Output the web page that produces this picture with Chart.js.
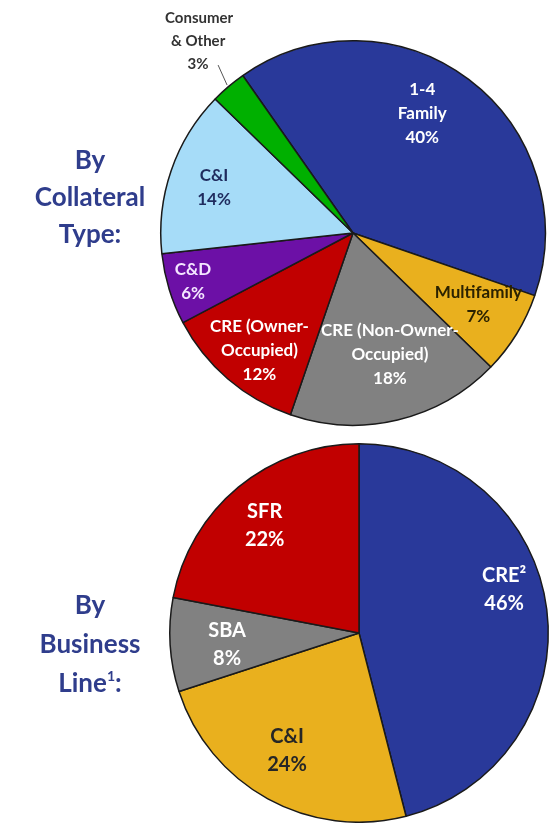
<!DOCTYPE html>
<html lang="en">
<head>
  <meta charset="UTF-8">
  <title>Loan Portfolio Composition</title>
  <script src="https://cdn.jsdelivr.net/npm/chart.js"></script>
  <style>
    body {
      margin: 0;
      padding: 0;
      background: #fff;
      font-family: Lato, sans-serif;
    }
    .page {
      position: relative;
      width: 552px;
      height: 823px;
      overflow: hidden;
    }
    .box {
      position: absolute;
      left: 0;
      width: 552px;
    }
    #topBox { top: 0; height: 430px; }
    #bottomBox { top: 430px; height: 393px; }
    .side-title {
      position: absolute;
      width: 180px;
      left: 0;
      text-align: center;
      color: #2f3d8c;
      font-weight: bold;
      font-size: 26px;
      line-height: 37px;
    }
    #title1 { top: 141px; }
    #title2 { top: 585px; line-height: 39px; }
    sup { font-size: 14px; vertical-align: 11px; line-height: 0; }
  </style>
</head>
<body>
  <div class="page">
    <div class="box" id="topBox"><canvas id="collateralChart"></canvas></div>
    <div class="box" id="bottomBox"><canvas id="businessChart"></canvas></div>
    <div class="side-title" id="title1">By<br>Collateral<br>Type:</div>
    <div class="side-title" id="title2">By<br>Business<br>Line<sup>1</sup>:</div>
  </div>

  <script>
    // collateral type (clockwise from the 1-4 Family wedge)
    const collateralLabels = ['1-4 Family', 'Multifamily', 'CRE (Non-Owner-Occupied)', 'CRE (Owner-Occupied)', 'C&D', 'C&I', 'Consumer & Other'];
    const collateralValues = [40, 7, 18, 12, 6, 14, 3];
    const collateralColors = ['#29399a', '#e9b01e', '#818181', '#c10000', '#6c10a6', '#a6dcf8', '#00b000'];

    // business line (clockwise from 12 o'clock)
    const businessLabels = ['CRE²', 'C&I', 'SBA', 'SFR'];
    const businessValues = [46, 24, 8, 22];
    const businessColors = ['#29399a', '#e9b01e', '#818181', '#c10000'];

    // label text lines, placement (radius fraction, angle nudge in degrees) and colour
    const collateralText = [
      { lines: ['1-4', 'Family', '40%'], r: 0.72, da: -7, color: '#ffffff' },
      { lines: ['Multifamily', '7%'], r: 0.75, da: -2, color: '#2b2200' },
      { lines: ['CRE (Non-Owner-', 'Occupied)', '18%'], r: 0.66, da: -3.5, color: '#ffffff' },
      { lines: ['CRE (Owner-', 'Occupied)', '12%'], r: 0.78, da: -2, color: '#ffffff' },
      { lines: ['C&D', '6%'], r: 0.87, da: 0, color: '#f4e6ff' },
      { lines: ['C&I', '14%'], r: 0.76, da: -1, color: '#1f2b5e' },
      { lines: [], r: 0, da: 0, color: '#333' }
    ];
    const businessText = [
      { lines: ['CRE²', '46%'], r: 0.80, da: -9.4, color: '#ffffff' },
      { lines: ['C&I', '24%'], r: 0.73, da: 2.6, color: '#262626' },
      { lines: ['SBA', '8%'], r: 0.70, da: -1.6, color: '#ffffff' },
      { lines: ['SFR', '22%'], r: 0.755, da: -1.7, color: '#ffffff' }
    ];

    function sliceLabels(texts, font, lh) {
      return {
        id: 'sliceLabels',
        afterDatasetsDraw(chart) {
          const ctx = chart.ctx;
          const arcs = chart.getDatasetMeta(0).data;
          ctx.save();
          ctx.font = font;
          ctx.textAlign = 'center';
          ctx.textBaseline = 'middle';
          arcs.forEach((arc, i) => {
            const t = texts[i];
            if (!t || !t.lines.length) return;
            const p = arc.getProps(['x', 'y', 'startAngle', 'endAngle', 'outerRadius']);
            const mid = (p.startAngle + p.endAngle) / 2 + t.da * Math.PI / 180;
            const cx = p.x + Math.cos(mid) * p.outerRadius * t.r;
            const cy = p.y + Math.sin(mid) * p.outerRadius * t.r;
            const y0 = cy - (t.lines.length - 1) * lh / 2;
            ctx.fillStyle = t.color;
            t.lines.forEach((line, k) => ctx.fillText(line, cx, y0 + k * lh));
          });
          ctx.restore();
        }
      };
    }

    // outside label for the small consumer wedge, with a leader line
    const consumerCallout = {
      id: 'consumerCallout',
      afterDatasetsDraw(chart) {
        const ctx = chart.ctx;
        const arc = chart.getDatasetMeta(0).data[6];
        const p = arc.getProps(['x', 'y', 'startAngle', 'endAngle', 'outerRadius']);
        const mid = (p.startAngle + p.endAngle) / 2;
        const ex = p.x + Math.cos(mid) * (p.outerRadius + 2);
        const ey = p.y + Math.sin(mid) * (p.outerRadius + 2);
        ctx.save();
        ctx.strokeStyle = '#555';
        ctx.lineWidth = 1;
        ctx.beginPath();
        ctx.moveTo(ex, ey);
        ctx.lineTo(ex - 9, ey - 20);
        ctx.stroke();
        ctx.font = 'bold 15px Lato, sans-serif';
        ctx.fillStyle = '#333';
        ctx.textAlign = 'center';
        ctx.textBaseline = 'middle';
        ctx.fillText('Consumer', ex - 28, ey - 67);
        ctx.fillText('& Other', ex - 29, ey - 44);
        ctx.fillText('3%', ex - 29, ey - 21);
        ctx.restore();
      }
    };

    Chart.defaults.animation = false;

    new Chart(document.getElementById('collateralChart'), {
      type: 'pie',
      data: {
        labels: collateralLabels,
        datasets: [{
          data: collateralValues,
          backgroundColor: collateralColors,
          borderColor: '#1a1a1a',
          borderWidth: 1.5
        }]
      },
      options: {
        responsive: true,
        maintainAspectRatio: false,
        rotation: -35,
        layout: { padding: { left: 160, right: 6, top: 40, bottom: 4 } },
        plugins: { legend: { display: false }, tooltip: { enabled: false } }
      },
      plugins: [sliceLabels(collateralText, 'bold 17px Lato, sans-serif', 24), consumerCallout]
    });

    new Chart(document.getElementById('businessChart'), {
      type: 'pie',
      data: {
        labels: businessLabels,
        datasets: [{
          data: businessValues,
          backgroundColor: businessColors,
          borderColor: '#1a1a1a',
          borderWidth: 1.5
        }]
      },
      options: {
        responsive: true,
        maintainAspectRatio: false,
        rotation: 0,
        layout: { padding: { left: 169, right: 3, top: 13, bottom: 0 } },
        plugins: { legend: { display: false }, tooltip: { enabled: false } }
      },
      plugins: [sliceLabels(businessText, 'bold 20px Lato, sans-serif', 28)]
    });
  </script>
</body>
</html>
